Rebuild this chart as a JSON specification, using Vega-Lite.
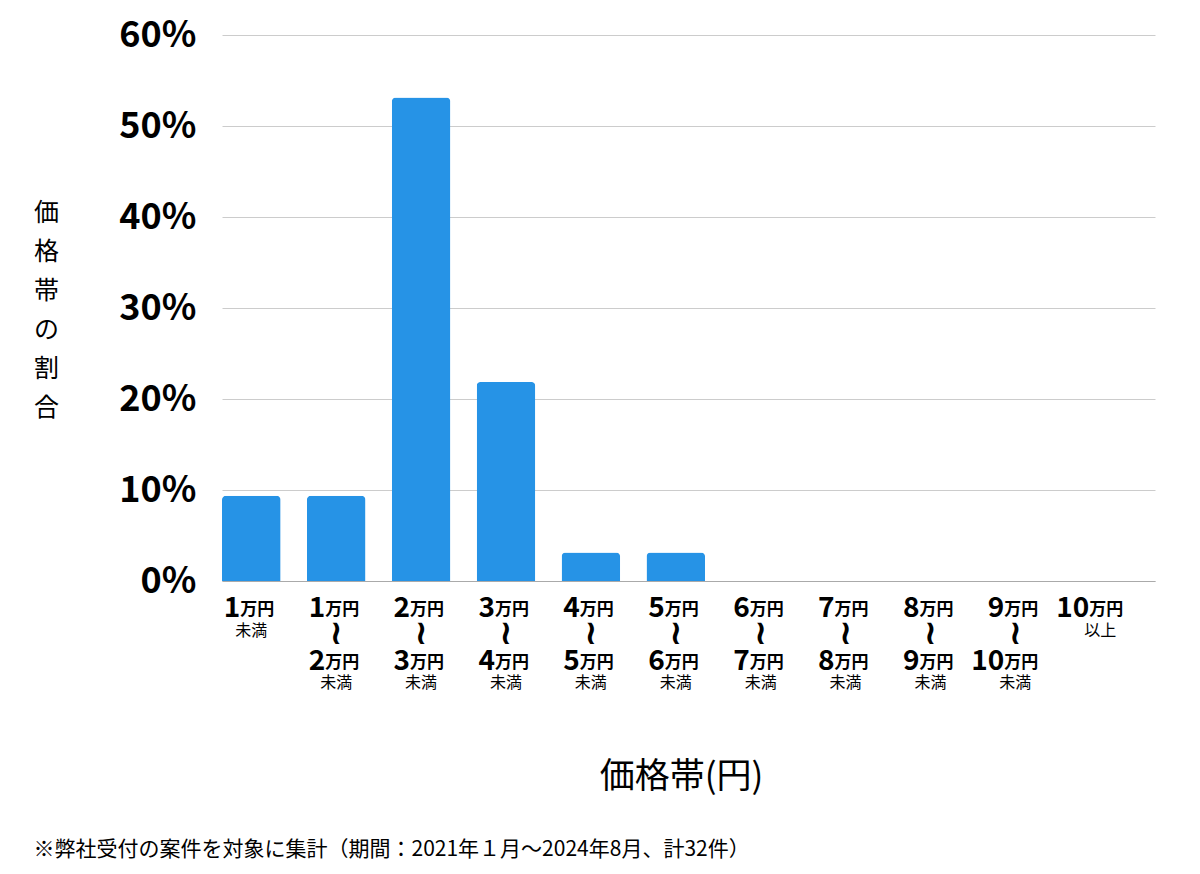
{
  "$schema": "https://vega.github.io/schema/vega-lite/v6.json",
  "width": 933,
  "height": 546,
  "autosize": {"type": "none"},
  "padding": {"left": 222, "top": 35, "right": 45, "bottom": 293},
  "background": "white",
  "config": {
    "font": "Noto Sans CJK JP",
    "view": {"stroke": null},
    "axis": {"labelColor": "#000", "titleColor": "#000"}
  },
  "title": {
    "text": "※弊社受付の案件を対象に集計（期間：2021年１月〜2024年8月、計32件）",
    "orient": "bottom",
    "anchor": "start",
    "frame": "bounds",
    "fontSize": 21,
    "fontWeight": "normal",
    "color": "#000",
    "offset": 45
  },
  "data": {
    "values": [
      {"range": "1万円未満", "share": 9.375, "from": "1", "to": "", "note": "未満"},
      {"range": "1〜2万円未満", "share": 9.375, "from": "1", "to": "2", "note": "未満"},
      {"range": "2〜3万円未満", "share": 53.125, "from": "2", "to": "3", "note": "未満"},
      {"range": "3〜4万円未満", "share": 21.875, "from": "3", "to": "4", "note": "未満"},
      {"range": "4〜5万円未満", "share": 3.125, "from": "4", "to": "5", "note": "未満"},
      {"range": "5〜6万円未満", "share": 3.125, "from": "5", "to": "6", "note": "未満"},
      {"range": "6〜7万円未満", "share": 0, "from": "6", "to": "7", "note": "未満"},
      {"range": "7〜8万円未満", "share": 0, "from": "7", "to": "8", "note": "未満"},
      {"range": "8〜9万円未満", "share": 0, "from": "8", "to": "9", "note": "未満"},
      {"range": "9〜10万円未満", "share": 0, "from": "9", "to": "10", "note": "未満"},
      {"range": "10万円以上", "share": 0, "from": "10", "to": "", "note": "以上"}
    ]
  },
  "encoding": {
    "x": {
      "field": "range",
      "type": "nominal",
      "sort": null,
      "scale": {"paddingInner": 0.31, "paddingOuter": 0.15, "align": 0},
      "axis": {
        "labels": false,
        "ticks": false,
        "domainColor": "#aaa",
        "title": "価格帯(円)",
        "titleFontSize": 35,
        "titleFontWeight": "normal",
        "titleX": 459,
        "titleY": 195,
        "titleBaseline": "middle"
      }
    }
  },
  "layer": [
    {
      "mark": {"type": "bar", "color": "#2693E6", "cornerRadiusTopLeft": 4, "cornerRadiusTopRight": 4},
      "encoding": {
        "y": {
          "field": "share",
          "type": "quantitative",
          "scale": {"domain": [0, 60]},
          "axis": {
            "values": [0, 10, 20, 30, 40, 50, 60],
            "labelExpr": "datum.value + '%'",
            "labelFontSize": 36,
            "labelFontWeight": "bold",
            "labelPadding": 26,
            "ticks": false,
            "domain": false,
            "gridColor": "#cccccc",
            "title": ["価", "格", "帯", "の", "割", "合"],
            "titleAngle": 0,
            "titleFontSize": 25,
            "titleFontWeight": "normal",
            "titleLineHeight": 39,
            "titleAlign": "center",
            "titleBaseline": "top",
            "titleX": -176,
            "titleY": 165
          }
        }
      }
    },
    {
      "mark": {"type": "text", "align": "right", "baseline": "alphabetic", "dx": -11, "dy": 36, "fontSize": 28, "fontWeight": "bold", "color": "#000"},
      "encoding": {"y": {"datum": 0, "type": "quantitative"}, "text": {"field": "from"}}
    },
    {
      "mark": {"type": "text", "align": "left", "baseline": "alphabetic", "dx": -11, "dy": 34, "fontSize": 17, "fontWeight": "bold", "color": "#000"},
      "encoding": {"y": {"datum": 0, "type": "quantitative"}, "text": {"value": "万円"}}
    },
    {
      "transform": [{"filter": "datum.to != ''"}],
      "mark": {"type": "text", "align": "center", "baseline": "middle", "dy": 53, "font": "DejaVu Sans", "fontSize": 34, "fontWeight": "bold", "color": "#000"},
      "encoding": {"y": {"datum": 0, "type": "quantitative"}, "text": {"value": "≀"}}
    },
    {
      "transform": [{"filter": "datum.to != ''"}],
      "mark": {"type": "text", "align": "right", "baseline": "alphabetic", "dx": -11, "dy": 89, "fontSize": 28, "fontWeight": "bold", "color": "#000"},
      "encoding": {"y": {"datum": 0, "type": "quantitative"}, "text": {"field": "to"}}
    },
    {
      "transform": [{"filter": "datum.to != ''"}],
      "mark": {"type": "text", "align": "left", "baseline": "alphabetic", "dx": -11, "dy": 87, "fontSize": 17, "fontWeight": "bold", "color": "#000"},
      "encoding": {"y": {"datum": 0, "type": "quantitative"}, "text": {"value": "万円"}}
    },
    {
      "transform": [{"filter": "datum.to != ''"}],
      "mark": {"type": "text", "align": "center", "baseline": "alphabetic", "dy": 107, "fontSize": 16, "color": "#000"},
      "encoding": {"y": {"datum": 0, "type": "quantitative"}, "text": {"field": "note"}}
    },
    {
      "transform": [{"filter": "datum.to == ''"}],
      "mark": {"type": "text", "align": "center", "baseline": "alphabetic", "dy": 55, "fontSize": 16, "color": "#000"},
      "encoding": {"y": {"datum": 0, "type": "quantitative"}, "text": {"field": "note"}}
    }
  ]
}
